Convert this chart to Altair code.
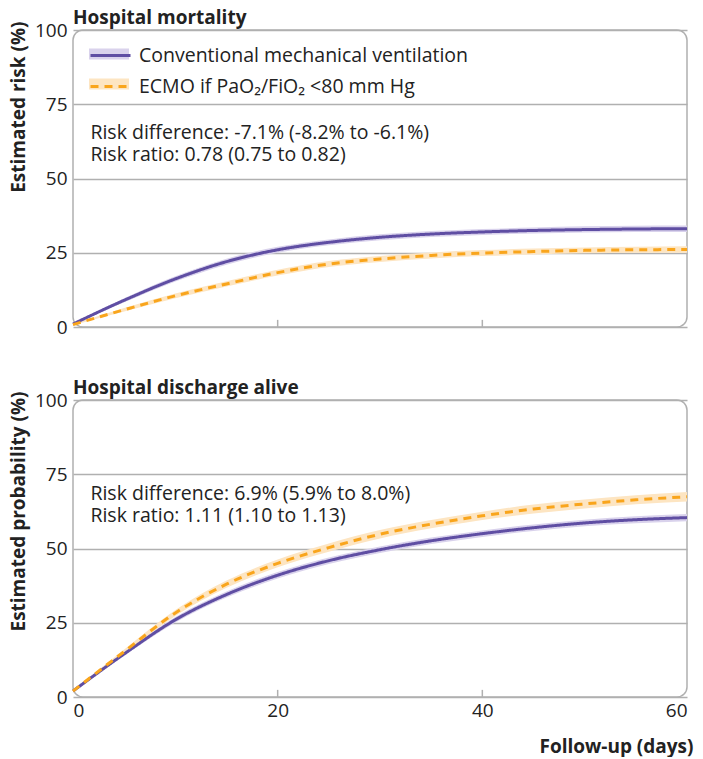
import altair as alt
import pandas as pd

days = [0, 5, 10, 15, 20, 25, 30, 35, 40, 45, 50, 55, 60]

series_names = ["Conventional mechanical ventilation", "ECMO if PaO₂/FiO₂ <80 mm Hg"]

# Hospital mortality (%)
mort_cmv = [1, 9, 16.2, 22, 26, 28.5, 30.2, 31.3, 32, 32.5, 32.8, 33, 33.1]
mort_cmv_lo = [0.8, 8.3, 15.3, 21.0, 25.0, 27.5, 29.2, 30.3, 31.0, 31.5, 31.8, 32.0, 32.0]
mort_cmv_hi = [1.2, 9.7, 17.1, 23.0, 27.0, 29.5, 31.2, 32.3, 33.0, 33.5, 33.9, 34.1, 34.2]
mort_ecmo = [0.8, 5.8, 10.5, 14.5, 18.3, 21.2, 22.9, 24.1, 24.9, 25.4, 25.8, 26, 26.1]
mort_ecmo_lo = [0.6, 5.2, 9.7, 13.6, 17.3, 20.2, 21.9, 23.1, 23.9, 24.4, 24.8, 25.0, 25.0]
mort_ecmo_hi = [1.0, 6.4, 11.3, 15.4, 19.3, 22.2, 23.9, 25.1, 25.9, 26.4, 26.8, 27.0, 27.2]

# Hospital discharge alive (%)
disc_cmv = [2, 14.5, 26, 34.5, 41, 45.9, 49.6, 52.6, 55, 57, 58.6, 59.7, 60.4]
disc_cmv_lo = [1.8, 13.9, 25.1, 33.5, 39.9, 44.8, 48.5, 51.5, 53.9, 55.9, 57.5, 58.5, 59.2]
disc_cmv_hi = [2.2, 15.1, 26.9, 35.5, 42.1, 47.0, 50.7, 53.7, 56.1, 58.1, 59.7, 60.9, 61.6]
disc_ecmo = [2, 15.3, 28.3, 38, 45, 50.3, 54.8, 58.2, 61, 63.3, 65, 66.4, 67.4]
disc_ecmo_lo = [1.8, 14.6, 27.3, 36.8, 43.7, 48.9, 53.4, 56.8, 59.6, 61.8, 63.5, 64.9, 65.8]
disc_ecmo_hi = [2.2, 16.0, 29.3, 39.2, 46.3, 51.7, 56.2, 59.6, 62.4, 64.8, 66.5, 67.9, 69.0]

mort_text = ["Risk difference: -7.1% (-8.2% to -6.1%)", "Risk ratio: 0.78 (0.75 to 0.82)"]
mort_text_y = [65.3, 57.8]
disc_text = ["Risk difference: 6.9% (5.9% to 8.0%)", "Risk ratio: 1.11 (1.10 to 1.13)"]
disc_text_y = [68.5, 61.0]
text_x = [1.7, 1.7]

x_ticks = [0, 20, 40, 60]
inner_ticks = [20, 40]
y_ticks = [0, 25, 50, 75, 100]

line_colors = ["#5f4ea3", "#f9a51c"]
band_colors = ["#d9d2ec", "#fde5c2"]
FONT = "Open Sans"
TXT = "#222222"
GRID = "#b0b0b0"
W = 614
H = 297


def make_df(c, clo, chi, e, elo, ehi):
    rows = []
    for i, d in enumerate(days):
        rows.append({"day": d, "series": series_names[0], "v": c[i], "lo": clo[i], "hi": chi[i]})
    for i, d in enumerate(days):
        rows.append({"day": d, "series": series_names[1], "v": e[i], "lo": elo[i], "hi": ehi[i]})
    return pd.DataFrame(rows)


def panel(df, title, ytitle, lines, lines_y, bottom, legend):
    xscale = alt.Scale(domain=[0, 60], nice=False)
    yscale = alt.Scale(domain=[0, 100], nice=False)
    if bottom:
        xaxis = alt.Axis(values=x_ticks, labelFont=FONT, labelFontSize=19, labelColor=TXT,
                         labelPadding=4, ticks=False, domain=False, grid=False,
                         title="Follow-up (days)", titleFont=FONT, titleFontSize=19,
                         titleFontWeight="bold", titleColor=TXT, titleAlign="right",
                         titleX=620, titleY=55, titleBaseline="alphabetic")
    else:
        xaxis = alt.Axis(values=x_ticks, labels=False, ticks=False, domain=False,
                         grid=False, title=None)
    yaxis = alt.Axis(values=y_ticks, labelFont=FONT, labelFontSize=19, labelColor=TXT,
                     labelPadding=6, ticks=False, domain=False, grid=True,
                     gridColor=GRID, gridWidth=1.5, title=ytitle, titleFont=FONT,
                     titleFontSize=19, titleFontWeight="bold", titleColor=TXT,
                     titleAngle=270, titleAlign="right", titleBaseline="middle",
                     titleX=-55, titleY=-9)

    if legend:
        fill_leg = alt.Legend(title=None, orient="none", legendX=16, legendY=4,
                              symbolType="M-1,-0.28H1V0.28H-1Z", symbolSize=1600,
                              symbolStrokeWidth=0, symbolOpacity=1, labelOpacity=0,
                              labelFont=FONT, labelFontSize=19.5, labelLimit=600, rowPadding=-8,
                              labelOffset=7, padding=0, zindex=0)
        stroke_leg = alt.Legend(title=None, orient="none", legendX=16, legendY=4,
                                symbolType="stroke", symbolSize=1600, symbolStrokeWidth=3,
                                labelFont=FONT, labelFontSize=19.5, labelColor=TXT, labelLimit=600,
                                rowPadding=-8, labelOffset=7, padding=0, zindex=1)
    else:
        fill_leg = None
        stroke_leg = None

    base = alt.Chart(df)
    band = base.mark_area(interpolate="monotone").encode(
        x=alt.X("day:Q", scale=xscale, axis=xaxis),
        y=alt.Y("lo:Q", scale=yscale, axis=yaxis),
        y2="hi:Q",
        fill=alt.Fill("series:N", scale=alt.Scale(domain=series_names, range=band_colors),
                      sort=series_names, legend=fill_leg),
    )
    line = base.mark_line(interpolate="monotone", strokeWidth=3).encode(
        x=alt.X("day:Q", scale=xscale),
        y=alt.Y("v:Q", scale=yscale),
        stroke=alt.Stroke("series:N", scale=alt.Scale(domain=series_names, range=line_colors),
                          sort=series_names, legend=stroke_leg),
        strokeDash=alt.StrokeDash("series:N",
                                  scale=alt.Scale(domain=series_names, range=[[1, 0], [8, 6]]),
                                  sort=series_names, legend=stroke_leg),
    )
    tick_df = pd.DataFrame({"day": inner_ticks, "y0": [0, 0], "y1": [2.4, 2.4]})
    ticks = alt.Chart(tick_df).mark_rule(color=GRID, strokeWidth=1.5).encode(
        x=alt.X("day:Q", scale=xscale), y=alt.Y("y0:Q", scale=yscale), y2="y1:Q"
    )
    txt_df = pd.DataFrame({"x": text_x, "y": lines_y, "t": lines})
    text = alt.Chart(txt_df).mark_text(align="left", baseline="middle", font=FONT,
                                       fontSize=19.5, color=TXT).encode(
        x=alt.X("x:Q", scale=xscale), y=alt.Y("y:Q", scale=yscale), text="t:N"
    )
    return alt.layer(band, line, ticks, text).properties(
        width=W, height=H,
        title=alt.TitleParams(title, anchor="start", frame="group", font=FONT, fontSize=19,
                              fontWeight="bold", color=TXT, offset=-7),
    ).resolve_scale(fill="independent", stroke="independent", strokeDash="independent")


mort_df = make_df(mort_cmv, mort_cmv_lo, mort_cmv_hi, mort_ecmo, mort_ecmo_lo, mort_ecmo_hi)
disc_df = make_df(disc_cmv, disc_cmv_lo, disc_cmv_hi, disc_ecmo, disc_ecmo_lo, disc_ecmo_hi)

top = panel(mort_df, "Hospital mortality", "Estimated risk (%)", mort_text, mort_text_y, False, True)
bot = panel(disc_df, "Hospital discharge alive", "Estimated probability (%)", disc_text, disc_text_y, True, False)

chart = alt.vconcat(top, bot, spacing=40).resolve_scale(
    fill="independent", stroke="independent", strokeDash="independent"
).resolve_legend(fill="independent", stroke="independent", strokeDash="independent").configure_view(
    stroke=GRID, strokeWidth=1.5, cornerRadius=10
).properties(padding={"left": 0, "top": 0, "right": 0, "bottom": 0})

chart.save("out.html", embed_options={"renderer": "svg", "actions": False})
